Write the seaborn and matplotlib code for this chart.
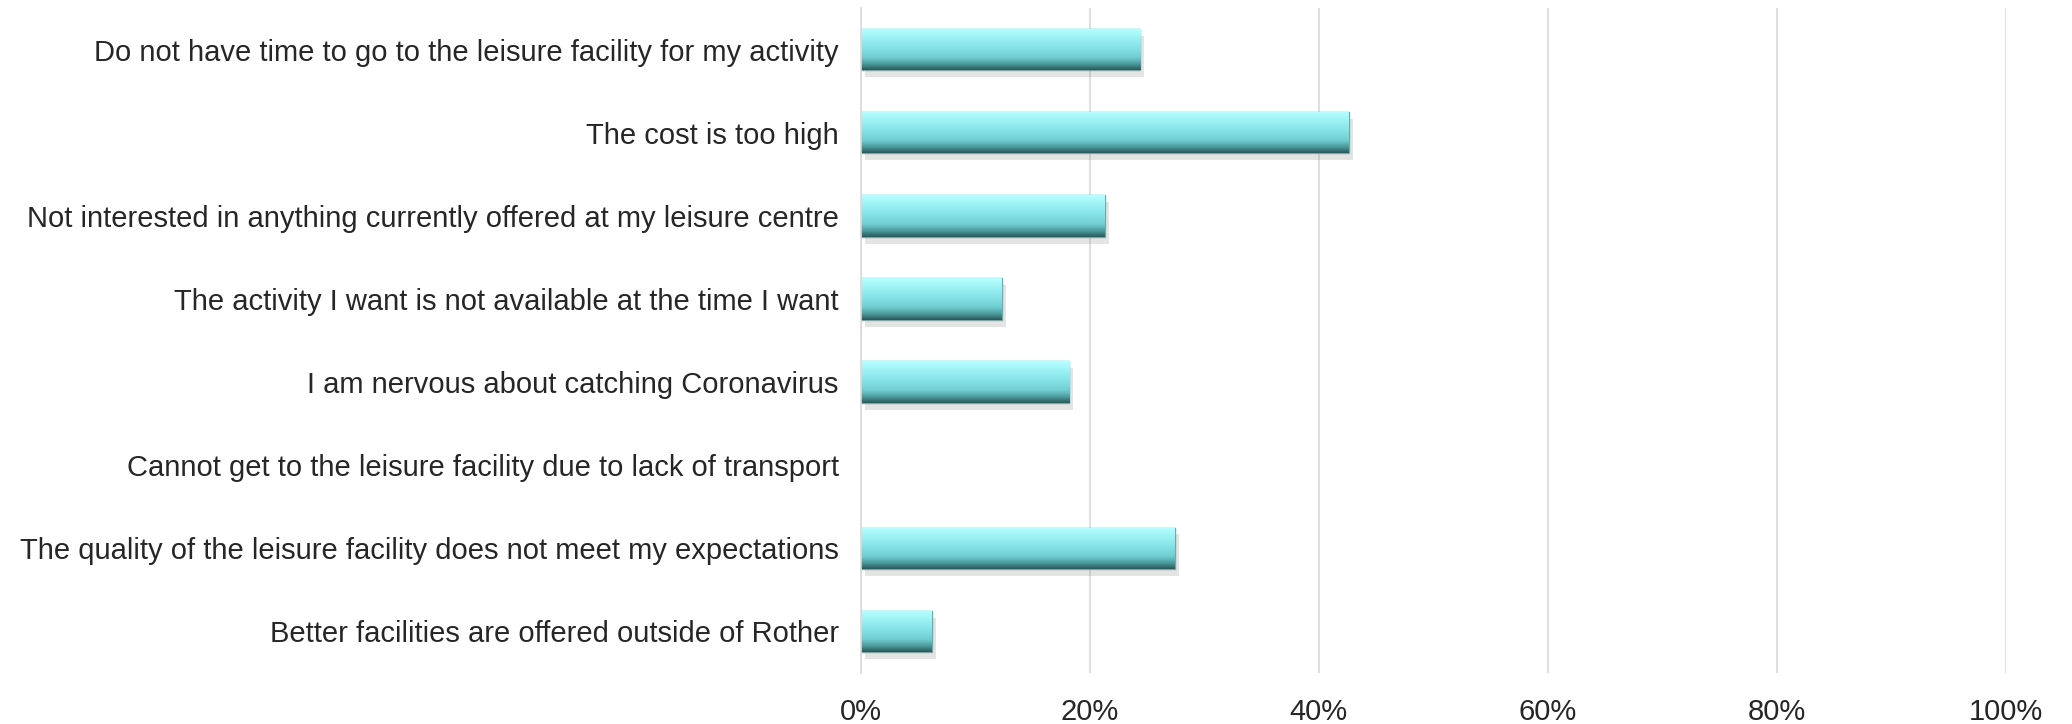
import numpy as np
import pandas as pd
import matplotlib
matplotlib.use('Agg')
import matplotlib.pyplot as plt
import matplotlib.patheffects as pe
from matplotlib.colors import LinearSegmentedColormap
from matplotlib.ticker import PercentFormatter
import seaborn as sns

categorias = [
    'Do not have time to go to the leisure facility for my activity',
    'The cost is too high',
    'Not interested in anything currently offered at my leisure centre',
    'The activity I want is not available at the time I want',
    'I am nervous about catching Coronavirus',
    'Cannot get to the leisure facility due to lack of transport',
    'The quality of the leisure facility does not meet my expectations',
    'Better facilities are offered outside of Rother',
]
porcentajes = [24.4, 42.6, 21.3, 12.3, 18.2, 0.0, 27.4, 6.2]
ticks = [0, 20, 40, 60, 80, 100]

data = pd.DataFrame({'razon': categorias, 'pct': porcentajes})

sns.set_style('white')
plt.rcParams['font.family'] = ['Liberation Sans', 'DejaVu Sans']

fig = plt.figure(figsize=(20.72, 7.24), dpi=100)
ax = fig.add_axes([0.4155, 0.0704, 0.9681 - 0.4155, 0.989 - 0.0704])

sns.barplot(data=data, x='pct', y='razon', orient='h', width=0.5,
            color='#7fdfe2', edgecolor='#6fa9ab', linewidth=1, ax=ax)

# degradado vertical tipo Excel
cmap = LinearSegmentedColormap.from_list('cyan3d', [
    (0.0, '#b8feff'), (0.15, '#a6f6f8'), (0.45, '#86e4e7'),
    (0.7, '#70cdd0'), (0.86, '#4a9a9c'), (1.0, '#2a5a5b')])
grad = np.linspace(0, 1, 100).reshape(-1, 1)

for p in list(ax.patches):
    w = p.get_width()
    if w <= 0:
        p.set_visible(False)
        continue
    x0, y0, h = p.get_x(), p.get_y(), p.get_height()
    p.set_path_effects([pe.SimplePatchShadow(offset=(3, -5), shadow_rgbFace='#888888', alpha=0.22),
                        pe.Normal()])
    im = ax.imshow(grad, cmap=cmap, aspect='auto', origin='upper',
                   extent=[x0, x0 + w, y0 + h, y0], zorder=p.get_zorder() + 0.1)
    im.set_clip_path(p)

ax.set_xlim(0, 100)
ax.set_ylim(len(categorias) - 0.5, -0.5)
ax.set_xticks(ticks)
ax.xaxis.set_major_formatter(PercentFormatter(decimals=0))
ax.grid(axis='x', color='#d9d9d9', linewidth=1.2)
ax.set_axisbelow(True)
for s in ['top', 'right', 'bottom']:
    ax.spines[s].set_visible(False)
ax.spines['left'].set_color('#d9d9d9')
ax.spines['left'].set_linewidth(1.2)
ax.tick_params(axis='both', length=0, labelsize=21, colors='#262626')
ax.tick_params(axis='y', pad=16)
ax.tick_params(axis='x', pad=18)
ax.set_xlabel('')
ax.set_ylabel('')

fig.savefig('out.png', dpi=100)
